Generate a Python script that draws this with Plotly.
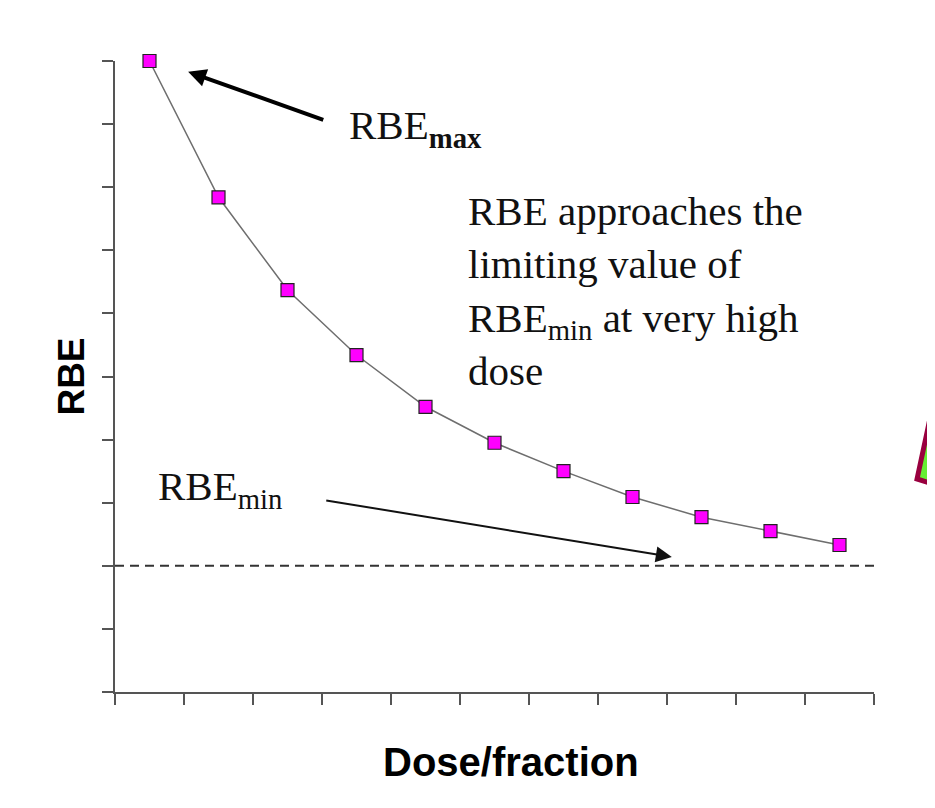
import plotly.graph_objects as go

# dose positions (arbitrary units) and RBE values
dose = [0.5, 1.5, 2.5, 3.5, 4.5, 5.5, 6.5, 7.5, 8.5, 9.5, 10.5]
rbe = [10.0, 7.84, 6.37, 5.34, 4.52, 3.95, 3.50, 3.09, 2.77, 2.55, 2.33]
rbe_min = 2.0
x_ticks = list(range(0, 12))
y_ticks = list(range(0, 11))

serif = "Liberation Serif, Times New Roman, serif"
sans = "Liberation Sans, Arial, sans-serif"

fig = go.Figure()
fig.add_trace(
    go.Scatter(
        x=dose,
        y=rbe,
        mode="lines+markers",
        line=dict(color="#6e6e6e", width=1.5),
        marker=dict(symbol="square", size=13, color="#ff00ff",
                    line=dict(color="#222222", width=1.2)),
        cliponaxis=False,
        showlegend=False,
    )
)

# limiting value
fig.add_shape(type="line", x0=0, x1=11.08, y0=rbe_min, y1=rbe_min,
              line=dict(color="#333333", width=2, dash="9px,6px"))

# cropped green triangle on the right edge
fig.add_shape(type="path", xref="paper", yref="paper",
              path="M 1.0711,0.4184 L 1.0567,0.3376 L 1.1133,0.3154 Z",
              fillcolor="#66ee33", line=dict(color="#99003f", width=5))

fig.add_annotation(x=1.06, y=9.83, ax=3.04, ay=9.06, axref="x", ayref="y",
                   text="", showarrow=True, arrowhead=2, arrowsize=0.9,
                   arrowwidth=4, arrowcolor="#000000")
fig.add_annotation(x=8.07, y=2.14, ax=3.04, ay=3.04, axref="x", ayref="y",
                   text="", showarrow=True, arrowhead=2, arrowsize=1.6,
                   arrowwidth=2, arrowcolor="#111111")

fig.add_annotation(x=3.36, y=8.94, xanchor="left", yanchor="middle",
                   text="RBE<sub><b>max</b></sub>", showarrow=False,
                   font=dict(family=serif, size=41, color="#111111"))
fig.add_annotation(x=0.59, y=3.21, xanchor="left", yanchor="middle",
                   text="RBE<sub>min</sub>", showarrow=False,
                   font=dict(family=serif, size=41, color="#111111"))
fig.add_annotation(x=5.08, y=6.35, xanchor="left", yanchor="middle", align="left",
                   text="RBE approaches the<br>limiting value of<br>"
                        "RBE<sub>min</sub> at very high<br>dose",
                   showarrow=False,
                   font=dict(family=serif, size=41, color="#111111"))

# x-axis title sits a little right of the plot centre in the original
fig.add_annotation(x=0.522, y=-0.111, xref="paper", yref="paper",
                   xanchor="center", yanchor="middle", showarrow=False,
                   text="<b>Dose/fraction</b>",
                   font=dict(family=sans, size=40, color="#000000"))

axis_style = dict(showgrid=False, zeroline=False, showline=True, linecolor="#555555",
                  linewidth=2, ticks="outside", ticklen=11, tickwidth=2,
                  tickcolor="#555555", showticklabels=False)

fig.update_xaxes(range=[0, 11], tickvals=x_ticks, **axis_style)
fig.update_yaxes(range=[0, 10], tickvals=y_ticks, **axis_style,
                 title=dict(text="<b>RBE</b>", standoff=6,
                            font=dict(family=sans, size=37, color="#000000")))

# page body has an 8px margin, so the figure is 8px smaller than the window
fig.update_layout(
    width=927,
    height=800,
    margin=dict(l=107, r=61, t=53, b=116),
    plot_bgcolor="white",
    paper_bgcolor="white",
)

fig.write_html("out.html")
